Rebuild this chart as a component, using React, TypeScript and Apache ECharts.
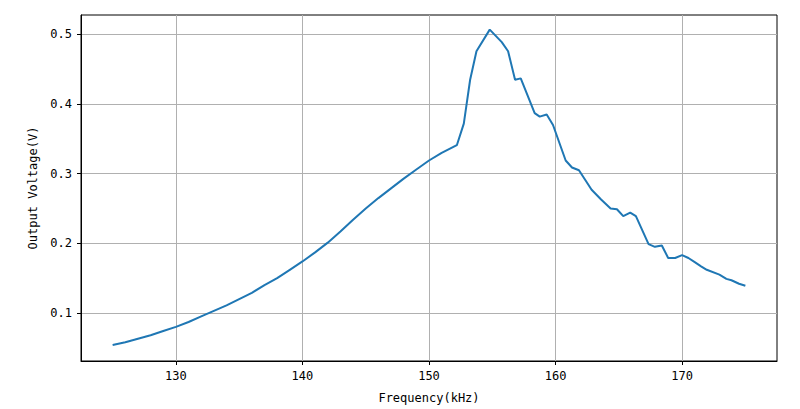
import React, { useEffect, useRef } from "react";
import * as echarts from "echarts";

const freqKHz = [
  125, 126, 127, 128, 129, 130, 131, 132, 133, 134, 135, 136, 137, 138, 139, 140,
  141, 142, 143, 144, 145, 146, 147, 148, 149, 150, 151, 152.2,
  152.75, 153.25, 153.75, 154.8, 155.75, 156.25, 156.8, 157.25, 158.35, 158.75,
  159.3, 159.8, 160.8, 161.3, 161.85, 162.85, 163.6, 164.35, 164.85, 165.35,
  165.9, 166.35, 167.35, 167.85, 168.4, 168.9, 169.45, 170.0, 170.5, 171.0,
  171.5, 171.95, 172.95, 173.5, 173.9, 174.5, 175.0,
];

const voltageV = [
  0.054, 0.058, 0.063, 0.068, 0.074, 0.080, 0.087, 0.095, 0.103, 0.111, 0.120, 0.129,
  0.140, 0.150, 0.162, 0.174, 0.187, 0.201, 0.217, 0.234, 0.250, 0.265, 0.279, 0.293,
  0.306, 0.319, 0.330, 0.341,
  0.372, 0.435, 0.476, 0.507, 0.489, 0.476, 0.435, 0.437, 0.387, 0.382,
  0.385, 0.370, 0.319, 0.309, 0.305, 0.277, 0.263, 0.250, 0.249, 0.239,
  0.244, 0.239, 0.199, 0.195, 0.197, 0.179, 0.179, 0.183, 0.179, 0.173,
  0.167, 0.162, 0.155, 0.149, 0.147, 0.142, 0.139,
];

const xTicks = [130, 140, 150, 160, 170];
const yTicks = [0.1, 0.2, 0.3, 0.4, 0.5];

const xLabel = "Frequency(kHz)";
const yLabel = "Output Voltage(V)";

const FONT = "DejaVu Sans Mono";

export default function App() {
  const ref = useRef<HTMLDivElement>(null);

  useEffect(() => {
    if (!ref.current) return;
    const chart = echarts.init(ref.current, null, { renderer: "svg" });
    const data = freqKHz.map((f, i) => [f, voltageV[i]]);
    const textStyle = { color: "#000", fontFamily: FONT, fontSize: 12 };
    chart.setOption({
      animation: false,
      backgroundColor: "#fff",
      textStyle: { fontFamily: FONT },
      grid: {
        left: 81,
        right: 23,
        top: 15,
        bottom: 48,
        show: true,
        borderColor: "#000",
        borderWidth: 1,
        backgroundColor: "transparent",
      },
      xAxis: {
        type: "value",
        min: 122.5,
        max: 177.5,
        name: xLabel,
        nameLocation: "middle",
        nameGap: 31,
        nameTextStyle: textStyle,
        axisLine: { show: true, onZero: false, lineStyle: { color: "#000", width: 1 } },
        axisTick: {
          show: true,
          inside: false,
          length: 4,
          customValues: xTicks,
          lineStyle: { color: "#000", width: 1 },
        },
        axisLabel: {
          ...textStyle,
          margin: 9,
          customValues: xTicks,
          formatter: (v: number) => String(v),
        },
        splitLine: { show: true, lineStyle: { color: "#b0b0b0", width: 1 } },
      },
      yAxis: {
        type: "value",
        min: 0.031,
        max: 0.528,
        name: yLabel,
        nameLocation: "middle",
        nameGap: 36,
        nameTextStyle: textStyle,
        axisLine: { show: true, onZero: false, lineStyle: { color: "#000", width: 1 } },
        axisTick: {
          show: true,
          inside: false,
          length: 4,
          customValues: yTicks,
          lineStyle: { color: "#000", width: 1 },
        },
        axisLabel: {
          ...textStyle,
          margin: 9,
          customValues: yTicks,
          formatter: (v: number) => v.toFixed(1),
        },
        splitLine: { show: true, lineStyle: { color: "#b0b0b0", width: 1 } },
      },
      series: [
        {
          type: "line",
          data,
          showSymbol: false,
          symbol: "none",
          smooth: false,
          lineStyle: { color: "#1f77b4", width: 2 },
          itemStyle: { color: "#1f77b4" },
        },
      ],
    });
    return () => chart.dispose();
  }, []);

  return (
    <div
      ref={ref}
      style={{ position: "fixed", left: 0, top: 0, width: 800, height: 409 }}
    />
  );
}
